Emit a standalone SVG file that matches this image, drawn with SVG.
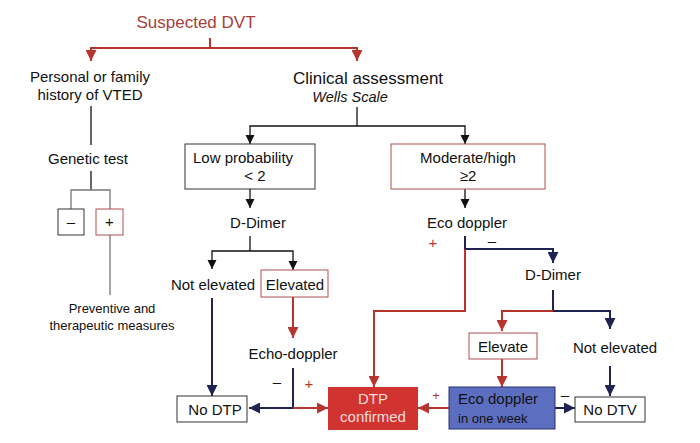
<svg xmlns="http://www.w3.org/2000/svg" width="700" height="443" viewBox="0 0 700 443">
<defs>
<marker id="ak" viewBox="0 0 10 10" refX="10" refY="5" markerWidth="9" markerHeight="10" markerUnits="userSpaceOnUse" orient="auto"><path d="M0,0 L10,5 L0,10 z" fill="#111"/></marker>
<marker id="ar" viewBox="0 0 10 10" refX="10" refY="5" markerWidth="11" markerHeight="11" markerUnits="userSpaceOnUse" orient="auto"><path d="M0,0 L10,5 L0,10 z" fill="#b8352f"/></marker>
<marker id="an" viewBox="0 0 10 10" refX="10" refY="5" markerWidth="11" markerHeight="11" markerUnits="userSpaceOnUse" orient="auto"><path d="M0,0 L10,5 L0,10 z" fill="#1f2352"/></marker>
</defs>
<style>
text{font-family:"Liberation Sans",Arial,sans-serif;fill:#111}
.t14{font-size:15px}
.t13{font-size:13px}
.t11{font-size:13px}
.k{stroke:#111;stroke-width:1.3;fill:none}
.g{stroke:#777;stroke-width:1.3;fill:none}
.r{stroke:#b8352f;stroke-width:2;fill:none}
.n{stroke:#1f2352;stroke-width:2;fill:none}
.box{fill:#fff;stroke:#333;stroke-width:1}
.rbox{fill:#fff;stroke:#b05050;stroke-width:1}
.red{fill:#b8352f}
</style>
<g id="connectors">
<path class="r" d="M210,38 V48"/>
<path class="r" d="M210,48 H91 V61" marker-end="url(#ar)"/>
<path class="r" d="M210,48 H357 V61" marker-end="url(#ar)"/>
<path class="k" d="M91,106 V145"/>
<path class="k" d="M91,171 V190"/>
<path class="g" d="M71,209 V190 H110 V209"/>
<path class="g" d="M110,235 V295"/>
<path class="k" d="M357,107 V126"/>
<path class="k" d="M357,126 H250 V144" marker-end="url(#ak)"/>
<path class="k" d="M357,126 H465 V144" marker-end="url(#ak)"/>
<path class="k" d="M250,189 V208" marker-end="url(#ak)"/>
<path class="k" d="M250,236 V251"/>
<path class="k" d="M250,251 H212 V269" marker-end="url(#ak)"/>
<path class="k" d="M250,251 H293 V270" marker-end="url(#ak)"/>
<path class="n" d="M212,298 V396" marker-end="url(#an)"/>
<path class="r" d="M293,297 V338" marker-end="url(#ar)"/>
<path class="n" d="M293,368 V408 H249" marker-end="url(#an)"/>
<path class="r" d="M293,408 H328" marker-end="url(#ar)"/>
<path class="k" d="M465,189 V208" marker-end="url(#ak)"/>
<path class="n" d="M465,236 V249"/>
<path class="r" d="M465,249 V311 H374 V387" marker-end="url(#ar)"/>
<path class="n" d="M465,249 H553 V263" marker-end="url(#an)"/>
<path class="n" d="M553,290 V311"/>
<path class="r" d="M553,311 H502 V331" marker-end="url(#ar)"/>
<path class="n" d="M553,311 H610 V329" marker-end="url(#an)"/>
<path class="r" d="M502,359 V387" marker-end="url(#ar)"/>
<path class="n" d="M610,366 V396" marker-end="url(#an)"/>
<path class="r" d="M449,408 H418" marker-end="url(#ar)"/>
<path class="n" d="M555,408 H575" marker-end="url(#an)"/>
</g>
<g id="suspected"><text x="196" y="28" text-anchor="middle" font-size="17" style="fill:#a8403c">Suspected DVT</text></g>
<g id="history"><text class="t14" x="90" y="82" text-anchor="middle">Personal or family</text><text class="t14" x="90" y="100" text-anchor="middle">history of VTED</text></g>
<g id="clinical"><text x="368" y="84" text-anchor="middle" font-size="17">Clinical assessment</text><text x="350" y="102" text-anchor="middle" font-size="14.5" font-style="italic">Wells Scale</text></g>
<g id="genetic"><text class="t14" x="88" y="164" text-anchor="middle">Genetic test</text></g>
<g id="neg"><rect class="box" x="58" y="209" width="26" height="26"/><text class="t14" x="71" y="227" text-anchor="middle">–</text></g>
<g id="pos"><rect class="rbox" x="96" y="209" width="27" height="26"/><text class="t14" x="109.5" y="227" text-anchor="middle">+</text></g>
<g id="preventive"><text class="t11" x="112" y="313" text-anchor="middle">Preventive and</text><text class="t11" x="112" y="330" text-anchor="middle">therapeutic measures</text></g>
<g id="low"><rect class="box" x="185" y="144" width="130" height="45"/><text class="t14" x="193" y="163">Low probability</text><text class="t14" x="255" y="181" text-anchor="middle">&lt; 2</text></g>
<g id="moderate"><rect class="rbox" x="391" y="144" width="154" height="45"/><text class="t14" x="468" y="163" text-anchor="middle">Moderate/high</text><text class="t14" x="468" y="181" text-anchor="middle">≥2</text></g>
<g id="ddimer1"><text class="t14" x="258" y="228" text-anchor="middle">D-Dimer</text></g>
<g id="notelev1"><text class="t14" x="213" y="290" text-anchor="middle">Not elevated</text></g>
<g id="elev1"><rect class="rbox" x="261" y="270" width="67" height="27"/><text class="t14" x="295" y="290" text-anchor="middle">Elevated</text></g>
<g id="echo"><text class="t14" x="293" y="359" text-anchor="middle">Echo-doppler</text><text class="t14" x="277" y="387" text-anchor="middle">–</text><text class="t14 red" x="309" y="389" text-anchor="middle">+</text></g>
<g id="nodtp"><rect class="box" x="177" y="396" width="70" height="26"/><text class="t14" x="215" y="415" text-anchor="middle">No DTP</text></g>
<g id="dtp"><rect x="328" y="387" width="90" height="43" fill="#d13430"/><text class="t14" x="373" y="404" text-anchor="middle" style="fill:#f4dede">DTP</text><text class="t14" x="373" y="422" text-anchor="middle" style="fill:#f4dede">confirmed</text></g>
<g id="ecodoppler"><text class="t14" x="467" y="228" text-anchor="middle">Eco doppler</text><text class="t14 red" x="433" y="248" text-anchor="middle">+</text><text class="t14" x="492" y="246" text-anchor="middle">–</text></g>
<g id="ddimer2"><text class="t14" x="553" y="280" text-anchor="middle">D-Dimer</text></g>
<g id="elevate"><rect class="rbox" x="469" y="333" width="68" height="26"/><text class="t14" x="503" y="352" text-anchor="middle">Elevate</text></g>
<g id="notelev2"><text class="t14" x="615" y="353" text-anchor="middle">Not elevated</text></g>
<g id="ecoweek"><rect x="449" y="387" width="106" height="42" fill="#5b6ec0" stroke="#2a3070" stroke-width="1"/><text class="t14" x="458" y="404">Eco doppler</text><text x="458" y="423" font-size="13">in one week</text><text class="t13 red" x="436" y="400" text-anchor="middle">+</text><text class="t14" x="565" y="400" text-anchor="middle">–</text></g>
<g id="nodtv"><rect class="box" x="575" y="397" width="70" height="25"/><text class="t14" x="610" y="415" text-anchor="middle">No DTV</text></g>
</svg>
